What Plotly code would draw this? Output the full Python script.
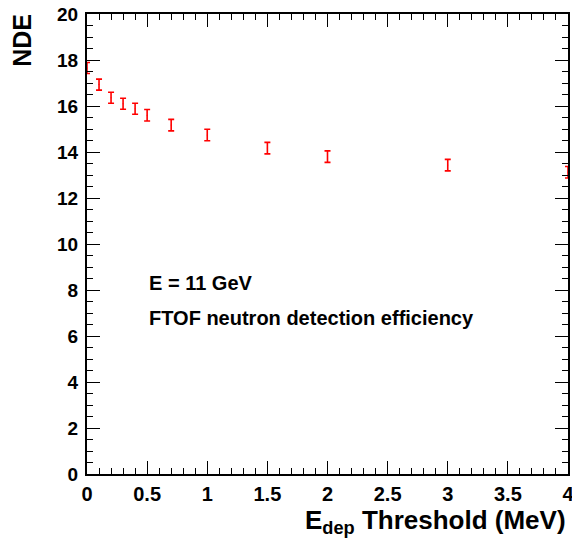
import plotly.graph_objects as go

thresholds = [0.0, 0.1, 0.2, 0.3, 0.4, 0.5, 0.7, 1.0, 1.5, 2.0, 3.0, 4.0]
nde = [17.65, 16.93, 16.36, 16.10, 15.88, 15.60, 15.17, 14.74, 14.17, 13.80, 13.43, 13.12]
nde_err = [0.24, 0.24, 0.24, 0.24, 0.24, 0.25, 0.25, 0.25, 0.25, 0.25, 0.25, 0.25]

x_ticks = [0, 0.5, 1, 1.5, 2, 2.5, 3, 3.5, 4]
x_ticklabels = ["0", "0.5", "1", "1.5", "2", "2.5", "3", "3.5", "4"]
y_ticks = [0, 2, 4, 6, 8, 10, 12, 14, 16, 18, 20]

FONT = "Liberation Sans"

fig = go.Figure()
fig.add_trace(go.Scatter(
    x=thresholds, y=nde, mode="markers",
    marker=dict(size=1, color="red"),
    error_y=dict(type="data", array=nde_err, visible=True,
                 color="red", thickness=1.6, width=3),
    showlegend=False,
))

axis_common = dict(
    showline=True, linecolor="black", linewidth=2, mirror="ticks",
    ticks="inside", ticklen=13, tickwidth=1, tickcolor="black",
    showgrid=False, zeroline=False, automargin=False,
    ticklabeloverflow="allow",
)

fig.update_xaxes(
    range=[0, 4], tickvals=x_ticks, ticktext=x_ticklabels,
    minor=dict(ticks="inside", ticklen=6, tickwidth=1, tickcolor="black", dtick=0.1, showgrid=False),
    ticklabelstandoff=1,
    tickfont=dict(family=FONT, size=20, color="black", weight=700),
    **axis_common,
)
fig.update_yaxes(
    range=[0, 20], tickvals=y_ticks,
    minor=dict(ticks="inside", ticklen=6, tickwidth=1, tickcolor="black", dtick=0.5, showgrid=False),
    ticklabelstandoff=3,
    tickfont=dict(family=FONT, size=19, color="black", weight=700),
    **axis_common,
)

fig.add_annotation(
    text="E<sub>dep</sub> Threshold (MeV)", xref="paper", yref="paper",
    x=1.0, y=-0.064, xanchor="right", yanchor="top", showarrow=False,
    font=dict(family=FONT, size=26, color="black", weight=700),
)
fig.add_annotation(
    text="NDE", xref="paper", yref="paper", textangle=-90,
    x=-0.134, y=1.005, xanchor="center", yanchor="top", showarrow=False,
    font=dict(family=FONT, size=25, color="black", weight=700),
)
fig.add_annotation(
    text="E = 11 GeV", xref="x", yref="y", x=0.50, y=8.3,
    xanchor="left", yanchor="middle", showarrow=False,
    font=dict(family=FONT, size=20, color="black", weight=700),
)
fig.add_annotation(
    text="FTOF neutron detection efficiency", xref="x", yref="y", x=0.50, y=6.8,
    xanchor="left", yanchor="middle", showarrow=False,
    font=dict(family=FONT, size=20, color="black", weight=700),
)

fig.update_layout(
    width=572, height=539,
    margin=dict(l=87, r=4, t=14, b=65),
    paper_bgcolor="white", plot_bgcolor="white",
)

fig.write_html("out.html")
